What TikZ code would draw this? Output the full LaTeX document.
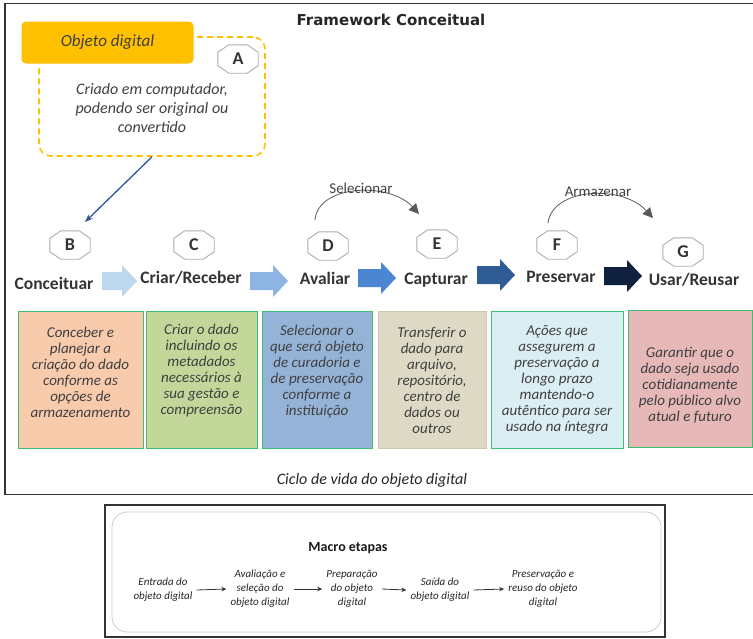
\documentclass[tikz,border=0pt]{standalone}
\usepackage{fontspec}
\setmainfont{Carlito}
\newfontfamily\titlefont{DejaVu Sans}
\usetikzlibrary{arrows.meta,calc}

\definecolor{objorange}{HTML}{FFC000}
\definecolor{txtgray}{HTML}{404040}
\definecolor{linkblue}{HTML}{2F5597}
\definecolor{boxgreen}{HTML}{3CBF6E}
\definecolor{peach}{HTML}{F8CBAD}
\definecolor{olive}{HTML}{C4D79B}
\definecolor{steelblue}{HTML}{95B3D7}
\definecolor{sand}{HTML}{DDD9C4}
\definecolor{sandline}{HTML}{CCC7AE}
\definecolor{paleblue}{HTML}{DAEEF3}
\definecolor{rose}{HTML}{E6B8B7}
\definecolor{arrowA}{HTML}{BDD7EE}
\definecolor{arrowB}{HTML}{8DB4E2}
\definecolor{arrowC}{HTML}{4A86D1}
\definecolor{arrowD}{HTML}{2F5C94}
\definecolor{arrowE}{HTML}{0F213F}

\newcommand{\fsz}[2]{\fontsize{#1}{#2}\selectfont}

% octagonal letter badge drawn round a named node
\newcommand{\octframe}[1]{%
  \draw[octline] ($(#1.north west)+(11,0)$) -- ($(#1.north east)+(-11,0)$)
    -- ($(#1.north east)+(0,7.5)$) -- ($(#1.south east)+(0,-7.5)$)
    -- ($(#1.south east)+(-11,0)$) -- ($(#1.south west)+(11,0)$)
    -- ($(#1.south west)+(0,-7.5)$) -- ($(#1.north west)+(0,7.5)$) -- cycle;}

% wide block arrow: colour, tail x, tip x, centre y
\newcommand{\blockarrow}[4]{%
  \fill[#1] (#2,#4-9) -- (#3-15,#4-9) -- (#3-15,#4-16) -- (#3,#4)
    -- (#3-15,#4+16) -- (#3-15,#4+9) -- (#2,#4+9) -- cycle;}

\begin{document}
\begin{tikzpicture}[x=1pt,y=-1pt,
  octnode/.style={minimum width=40pt, minimum height=28pt, inner sep=0pt,
    font=\bfseries\fsz{18}{20}, text=black!80},
  octline/.style={draw=gray!65, line width=0.9pt},
  steplabel/.style={font=\bfseries\fsz{17.5}{20}, text=black!80},
  stagebox/.style={line width=1pt, minimum height=137pt, inner sep=0pt},
  boxtext/.style={align=center, font=\itshape\fsz{15}{16}, text=txtgray},
  curvearrow/.style={draw=black!65, line width=0.8pt,
    -{Triangle[length=10pt,width=10pt]}},
  curvelabel/.style={font=\fsz{15}{18}, text=txtgray},
  macrostep/.style={align=center, font=\itshape\fsz{11}{14}, text=black!85, inner sep=4pt},
  macroarrow/.style={draw=black!80, line width=0.8pt, -{Stealth[length=5pt,width=4.5pt]}}
]
\useasboundingbox (0,0) rectangle (753,638);

% outer frame of the framework
\draw[black!80, line width=1.6pt] (770,3.5) -- (5,3.5) -- (5,494.5) -- (770,494.5);

\node[font=\titlefont\bfseries\fsz{15}{18}, text=black!85] (title) at (391,20) {Framework Conceitual};

% digital object definition
\node[draw=objorange, dash pattern=on 6pt off 4pt, line width=1.6pt, rounded corners=12pt,
  minimum width=226pt, minimum height=119pt] (adash) at (152,96.5) {};
\node[align=center, font=\itshape\fsz{16}{19}, text=txtgray] (adesc) at (152,108)
  {Criado em computador,\\podendo ser original ou\\convertido};
\node[fill=objorange, draw=white, line width=3pt, rounded corners=6pt,
  minimum width=175pt, minimum height=45pt, font=\itshape\fsz{17}{20}, text=black!75]
  (obj) at (107.5,42.5) {Objeto digital};
\node[octnode] (A) at (238,59) {A};
\octframe{A}

% letter badges
\node[octnode] (B) at (70,245) {B};
\node[octnode] (C) at (194,245) {C};
\node[octnode] (D) at (328,246) {D};
\node[octnode] (E) at (437,244) {E};
\node[octnode] (F) at (557,245) {F};
\node[octnode] (G) at (683,252) {G};
\foreach \o in {B,C,D,E,F,G} {\octframe{\o}}

% link from the definition to the first stage
\coordinate (btip) at (85,222);
\draw[linkblue, line width=1.3pt, -{Stealth[length=8pt,width=6pt]}] (adash.south) -- (btip);

% stage names
\node[steplabel] (l1) at (54,283) {Conceituar};
\node[steplabel] (l2) at (191,278) {Criar/Receber};
\node[steplabel] (l3) at (325,278) {Avaliar};
\node[steplabel] (l4) at (436,280) {Capturar};
\node[steplabel] (l5) at (561,277) {Preservar};
\node[steplabel] (l6) at (694,280) {Usar/Reusar};

% block arrows between stages
\blockarrow{arrowA}{102}{137}{281}
\blockarrow{arrowB}{250}{288}{281}
\blockarrow{arrowC}{358}{396}{278}
\blockarrow{arrowD}{477}{515}{275}
\blockarrow{arrowE}{604}{642}{276}

% jumps over a stage
\coordinate (selA) at (315,220);
\coordinate (selB) at (419,214);
\draw[curvearrow] (selA) .. controls (318,184) and (390,182) .. (selB);
\node[curvelabel] (sel) at (361,188) {Selecionar};
\coordinate (armA) at (548,223);
\coordinate (armB) at (653,218);
\draw[curvearrow] (armA) .. controls (552,188) and (622,184) .. (armB);
\node[curvelabel] (arm) at (598,192) {Armazenar};

% stage descriptions
\node[stagebox, fill=peach, draw=boxgreen, minimum width=125pt] (b1) at (80.5,379.5) {};
\node[stagebox, fill=olive, draw=boxgreen, minimum width=111pt] (b2) at (201.5,379.5) {};
\node[stagebox, fill=steelblue, draw=boxgreen, minimum width=110pt] (b3) at (317,379.5) {};
\node[stagebox, fill=sand, draw=sandline, minimum width=108pt] (b4) at (432,379.5) {};
\node[stagebox, fill=paleblue, draw=boxgreen, minimum width=132pt] (b5) at (557,380) {};
\node[stagebox, fill=rose, draw=boxgreen, minimum width=124pt] (b6) at (690,379) {};

\node[boxtext] (t1) at (80.5,372) {Conceber e\\planejar a\\criação do dado\\conforme as\\opções de\\armazenamento};
\node[boxtext] (t2) at (201.5,370) {Criar o dado\\incluindo os\\metadados\\necessários à\\sua gestão e\\compreensão};
\node[boxtext] (t3) at (317,372) {Selecionar o\\que será objeto\\de curadoria e\\de preservação\\conforme a\\instituição};
\node[boxtext] (t4) at (432,380) {Transferir o\\dado para\\arquivo,\\repositório,\\centro de\\dados ou\\outros};
\node[boxtext] (t5) at (557,380) {Ações que\\assegurem a\\preservação a\\longo prazo\\mantendo-o\\autêntico para ser\\usado na íntegra};
\node[boxtext] (t6) at (690,385) {Garantir que o\\dado seja usado\\cotidianamente\\pelo público alvo\\atual e futuro};

\node[font=\itshape\fsz{16}{19}, text=black!85] (caption) at (372,480) {Ciclo de vida do objeto digital};

% macro stages panel
\draw[black!80, line width=1.2pt] (105,505) rectangle (665,637);
\draw[black!20, line width=0.8pt, rounded corners=15pt] (112,512) rectangle (661,632);
\node[font=\bfseries\fsz{14}{17}, text=black!90] (mtitle) at (348,548) {Macro etapas};
\node[macrostep] (m1) at (163,590) {Entrada do\\objeto digital};
\node[macrostep] (m2) at (260,589) {Avaliação e\\seleção do\\objeto digital};
\node[macrostep] (m3) at (352,589) {Preparação\\do objeto\\digital};
\node[macrostep] (m4) at (440,590) {Saída do\\objeto digital};
\node[macrostep] (m5) at (543,589) {Preservação e\\reuso do objeto\\digital};
\draw[macroarrow] (m1.east) -- (m2.west);
\draw[macroarrow] (m2.east) -- (m3.west);
\draw[macroarrow] (m3.east) -- (m4.west);
\draw[macroarrow] (m4.east) -- (m5.west);
\end{tikzpicture}
\end{document}
